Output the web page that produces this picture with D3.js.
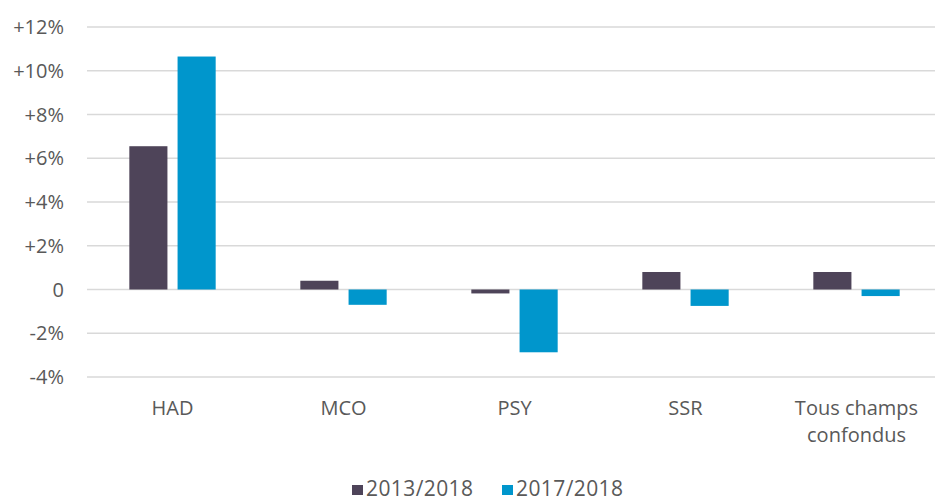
<!DOCTYPE html>
<html>
  <head>
    <meta charset="utf-8" />
    <title>Bar Chart</title>
    <script src="https://d3js.org/d3.v7.min.js"></script>
    <style>
      body { margin: 0; background: #fff; }
      text { font-family: "Open Sans", sans-serif; fill: #595959; }
    </style>
  </head>
  <body>
    <svg id="barchart"></svg>
    <script>
      // data
      var categories = [["HAD"], ["MCO"], ["PSY"], ["SSR"], ["Tous champs", "confondus"]];
      var series = ["2013/2018", "2017/2018"];
      var values2013 = [6.55, 0.4, -0.18, 0.8, 0.8];
      var values2017 = [10.65, -0.7, -2.87, -0.75, -0.3];
      var yTicks = [-4, -2, 0, 2, 4, 6, 8, 10, 12];
      var colors = ["#4e4459", "#0096cc"];

      var width = 935, height = 501;
      var margin = { top: 27, right: -7, bottom: 124, left: 87 };

      var svg = d3.select("#barchart")
        .attr("width", width)
        .attr("height", height);

      var x = d3.scaleBand()
        .domain(d3.range(categories.length))
        .range([margin.left, width - margin.right])
        .paddingInner(0)
        .paddingOuter(0);

      var x1 = d3.scaleBand()
        .domain(series)
        .range([0, x.bandwidth() * 0.505])
        .paddingInner(0.21);

      var y = d3.scaleLinear()
        .domain([-4, 12])
        .range([height - margin.bottom, margin.top]);

      // gridlines
      svg.append("g")
        .selectAll("line")
        .data(yTicks)
        .enter().append("line")
        .attr("x1", margin.left)
        .attr("x2", width)
        .attr("y1", function(d) { return y(d); })
        .attr("y2", function(d) { return y(d); })
        .attr("stroke", "#d9d9d9")
        .attr("stroke-width", 1.5);

      // y labels
      svg.append("g")
        .selectAll("text")
        .data(yTicks)
        .enter().append("text")
        .attr("x", 64)
        .attr("y", function(d) { return y(d); })
        .attr("dy", "0.35em")
        .attr("text-anchor", "end")
        .attr("font-size", 20)
        .text(function(d) { return d === 0 ? "0" : (d > 0 ? "+" : "") + d + "%"; });

      // bars
      var rows = categories.map(function(c, i) {
        return [
          { key: series[0], value: values2013[i], color: colors[0] },
          { key: series[1], value: values2017[i], color: colors[1] }
        ];
      });

      var groups = svg.append("g")
        .selectAll("g")
        .data(rows)
        .enter().append("g")
        .attr("transform", function(d, i) {
          return "translate(" + (x(i) + x.bandwidth() * 0.2475) + ",0)";
        });

      groups.selectAll("rect")
        .data(function(d) { return d; })
        .enter().append("rect")
        .attr("x", function(d) { return x1(d.key); })
        .attr("width", x1.bandwidth())
        .attr("y", function(d) { return y(Math.max(0, d.value)); })
        .attr("height", function(d) { return Math.abs(y(d.value) - y(0)); })
        .attr("fill", function(d) { return d.color; });

      // category labels
      var catLabels = svg.append("g")
        .selectAll("text")
        .data(categories)
        .enter().append("text")
        .attr("x", function(d, i) { return x(i) + x.bandwidth() / 2; })
        .attr("y", 415)
        .attr("text-anchor", "middle")
        .attr("font-size", 20);

      catLabels.selectAll("tspan")
        .data(function(d) { return d; })
        .enter().append("tspan")
        .attr("x", function() { return this.parentNode.getAttribute("x"); })
        .attr("dy", function(d, i) { return i === 0 ? 0 : 27; })
        .text(function(d) { return d; });

      // legend
      var legend = svg.append("g")
        .selectAll("g")
        .data(series)
        .enter().append("g")
        .attr("transform", function(d, i) { return "translate(" + (352 + i * 150) + ",485)"; });

      legend.append("rect")
        .attr("width", 11)
        .attr("height", 10)
        .attr("fill", function(d, i) { return colors[i]; });

      legend.append("text")
        .attr("x", 14)
        .attr("y", 11)
        .attr("font-size", 21)
        .attr("letter-spacing", 0.4)
        .text(function(d) { return d; });
    </script>
  </body>
</html>
